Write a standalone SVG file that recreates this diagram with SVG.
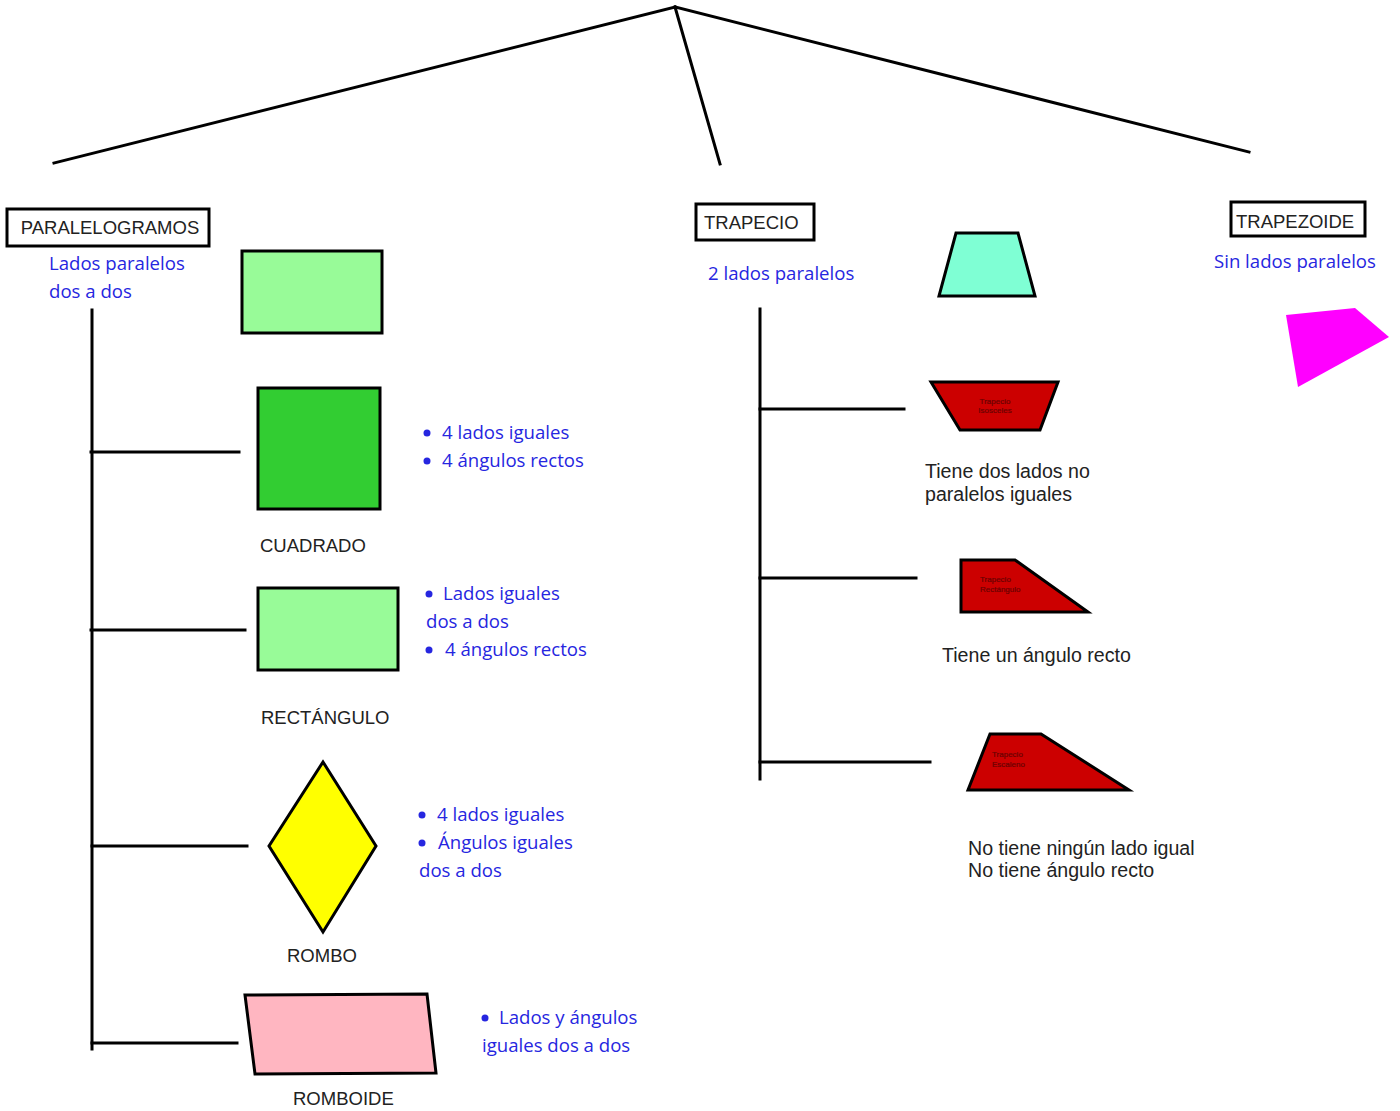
<svg xmlns="http://www.w3.org/2000/svg" width="1400" height="1111" viewBox="0 0 1400 1111">
<style>
.ln{stroke:#000;stroke-width:3;fill:none;stroke-linecap:square}
.shp{stroke:#000;stroke-width:3;stroke-linejoin:miter}
.lbl{font-family:"Liberation Sans",Arial,sans-serif;font-size:18.5px;fill:#222}
.txt{font-family:"Liberation Sans",Arial,sans-serif;font-size:19.6px;fill:#222}
.blue{font-family:"Open Sans","Noto Sans",sans-serif;font-size:18.6px;fill:#2626e0}
.dot{fill:#2626e0}
.tiny{font-family:"Liberation Sans",Arial,sans-serif;font-size:8px;fill:#6a0000;stroke:#6a0000;stroke-width:0.2}
.box{fill:#fff;stroke:#000;stroke-width:3}
</style>
<rect width="1400" height="1111" fill="#fff"/>
<g id="connectors">
<line class="ln" x1="675" y1="7" x2="54" y2="163"/>
<line class="ln" x1="675" y1="7" x2="720" y2="164"/>
<line class="ln" x1="675" y1="7" x2="1249" y2="152"/>
<line class="ln" x1="92" y1="310" x2="92" y2="1049"/>
<line class="ln" x1="91" y1="452" x2="239" y2="452"/>
<line class="ln" x1="91" y1="630" x2="245" y2="630"/>
<line class="ln" x1="92" y1="846" x2="247" y2="846"/>
<line class="ln" x1="92" y1="1043" x2="237" y2="1043"/>
<line class="ln" x1="760" y1="309" x2="760" y2="779"/>
<line class="ln" x1="760" y1="409" x2="904" y2="409"/>
<line class="ln" x1="760" y1="578" x2="916" y2="578"/>
<line class="ln" x1="760" y1="762" x2="930" y2="762"/>
</g>
<g id="paralelogramos">
<rect class="box" x="7" y="209" width="202" height="37"/>
<text class="lbl" x="110" y="234" text-anchor="middle" font-size="19.6">PARALELOGRAMOS</text>
<text class="blue" x="49" y="270">Lados paralelos</text>
<text class="blue" x="49" y="298">dos a dos</text>
<rect class="shp" x="242" y="251" width="140" height="82" fill="#98fb98"/>
</g>
<g id="cuadrado">
<rect class="shp" x="258" y="388" width="122" height="121" fill="#32cd32"/>
<text class="lbl" x="260" y="552">CUADRADO</text>
<circle class="dot" cx="427" cy="433" r="3.5"/>
<circle class="dot" cx="427" cy="461" r="3.5"/>
<text class="blue" x="442" y="439">4 lados iguales</text>
<text class="blue" x="442" y="467">4 ángulos rectos</text>
</g>
<g id="rectangulo">
<rect class="shp" x="258" y="588" width="140" height="82" fill="#98fb98"/>
<text class="lbl" x="261" y="724">RECTÁNGULO</text>
<circle class="dot" cx="429" cy="594" r="3.5"/>
<circle class="dot" cx="429" cy="650" r="3.5"/>
<text class="blue" x="443" y="600">Lados iguales</text>
<text class="blue" x="426" y="628">dos a dos</text>
<text class="blue" x="445" y="656">4 ángulos rectos</text>
</g>
<g id="rombo">
<polygon class="shp" points="323,762 376,846 323,932 269,846" fill="#ffff00"/>
<text class="lbl" x="287" y="962">ROMBO</text>
<circle class="dot" cx="422" cy="815" r="3.5"/>
<circle class="dot" cx="422" cy="843" r="3.5"/>
<text class="blue" x="437" y="821">4 lados iguales</text>
<text class="blue" x="438" y="849">Ángulos iguales</text>
<text class="blue" x="419" y="877">dos a dos</text>
</g>
<g id="romboide">
<polygon class="shp" points="245,995 427,994 436,1073 255,1074" fill="#ffb6c1"/>
<text class="lbl" x="293" y="1105">ROMBOIDE</text>
<circle class="dot" cx="485" cy="1018" r="3.5"/>
<text class="blue" x="499" y="1024">Lados y ángulos</text>
<text class="blue" x="482" y="1052">iguales dos a dos</text>
</g>
<g id="trapecio">
<rect class="box" x="696" y="204" width="118" height="36"/>
<text class="lbl" x="704" y="229">TRAPECIO</text>
<text class="blue" x="708" y="280">2 lados paralelos</text>
<polygon class="shp" points="956,233 1018,233 1035,296 939,296" fill="#7fffd4"/>
</g>
<g id="trapecio-isosceles">
<polygon class="shp" points="931,382 1058,382 1040,430 960,430" fill="#cc0000"/>
<text class="tiny" x="995" y="404" text-anchor="middle">Trapecio</text>
<text class="tiny" x="995" y="413" text-anchor="middle">Isosceles</text>
<text class="txt" x="925" y="478">Tiene dos lados no</text>
<text class="txt" x="925" y="501">paralelos iguales</text>
</g>
<g id="trapecio-rectangulo">
<polygon class="shp" points="961,560 1015,560 1088,612 961,612" fill="#cc0000"/>
<text class="tiny" x="980" y="582">Trapecio</text>
<text class="tiny" x="980" y="592">Rectángulo</text>
<text class="txt" x="942" y="662">Tiene un ángulo recto</text>
</g>
<g id="trapecio-escaleno">
<polygon class="shp" points="990,734 1041,734 1129,790 968,790" fill="#cc0000"/>
<text class="tiny" x="992" y="757">Trapecio</text>
<text class="tiny" x="992" y="767">Escaleno</text>
<text class="txt" x="968" y="855">No tiene ningún lado igual</text>
<text class="txt" x="968" y="877">No tiene ángulo recto</text>
</g>
<g id="trapezoide">
<rect class="box" x="1231" y="202" width="134" height="34"/>
<text class="lbl" x="1236" y="228">TRAPEZOIDE</text>
<text class="blue" x="1214" y="268">Sin lados paralelos</text>
<polygon points="1286,315 1355,308 1389,337 1298,387" fill="#ff00ff"/>
</g>
</svg>
